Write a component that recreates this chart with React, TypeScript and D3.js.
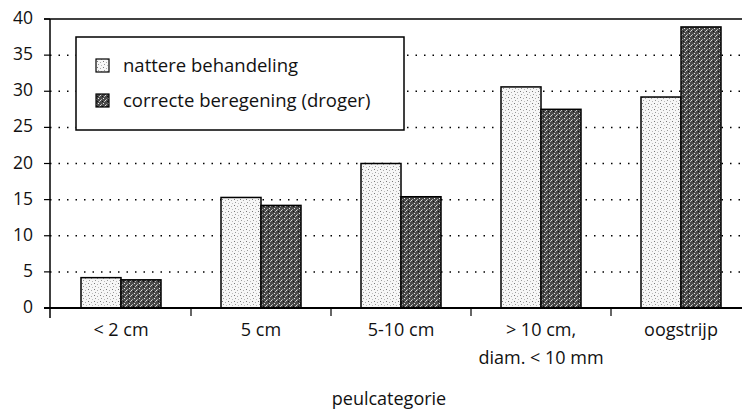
import React from "react";
import * as d3 from "d3";

// peulcategorie (pod category) vs percentage
const categories = ["< 2 cm", "5 cm", "5-10 cm", "> 10 cm,|diam. < 10 mm", "oogstrijp"];
const natter = [4.2, 15.3, 20.0, 30.6, 29.2];
const correct = [3.9, 14.2, 15.4, 27.5, 38.9];
const seriesNames = ["nattere behandeling", "correcte beregening (droger)"];
const yTicks = [0, 5, 10, 15, 20, 25, 30, 35, 40];

const W = 742;
const H = 412;
const FONT = "'Open Sans', sans-serif";

const App = () => {
    const y = d3.scaleLinear().domain([0, 40]).range([308, 19]);
    const x0 = d3.scaleBand().domain(categories).range([51, 751]).paddingInner(0);
    const bw = x0.bandwidth();
    const x1 = d3.scaleBand().domain(seriesNames).range([bw / 2 - 40, bw / 2 + 40]);
    const values = [natter, correct];
    const fills = ["url(#lightDots)", "url(#darkDots)"];

    const tickEdges = categories.map((c) => x0(c) as number);

    return (
        <svg width={W} height={H} style={{ position: "absolute", left: 0, top: 0, background: "#fff" }}
             fontFamily={FONT}>
            <defs>
                <pattern id="lightDots" width="6" height="6" patternUnits="userSpaceOnUse">
                    <rect width="6" height="6" fill="#f6f6f6" />
                    <rect x="1" y="1" width="1" height="1" fill="#777" />
                    <rect x="4" y="2" width="1" height="1" fill="#aaa" />
                    <rect x="2" y="4" width="1" height="1" fill="#999" />
                    <rect x="5" y="5" width="1" height="1" fill="#bbb" />
                </pattern>
                <pattern id="darkDots" width="5" height="5" patternUnits="userSpaceOnUse">
                    <rect width="5" height="5" fill="#4a4a4a" />
                    <rect x="0" y="0" width="1" height="1" fill="#ddd" />
                    <rect x="2" y="1" width="1" height="1" fill="#111" />
                    <rect x="3" y="3" width="1" height="1" fill="#eee" />
                    <rect x="1" y="4" width="1" height="1" fill="#aaa" />
                    <rect x="4" y="1" width="1" height="1" fill="#bbb" />
                </pattern>
            </defs>

            {/* dotted gridlines */}
            {yTicks.filter((t) => t > 0 && t < 40).map((t) => (
                <line key={"g" + t} x1={50} x2={W} y1={y(t)} y2={y(t)}
                      stroke="#000" strokeWidth={1.5} strokeDasharray="1.5 7" />
            ))}
            {/* top border line at 40 */}
            <line x1={44} x2={W} y1={y(40)} y2={y(40)} stroke="#000" strokeWidth={1.5} />

            {/* legend */}
            <rect x={76} y={37} width={328} height={93} fill="#fff" stroke="#000" strokeWidth={1.5} />
            {seriesNames.map((s, i) => (
                <g key={s}>
                    <rect x={96} y={59 + i * 35} width={13} height={13} fill={fills[i]} stroke="#000" strokeWidth={1.2} />
                    <text x={123} y={72 + i * 34.5} fontSize={18.5} fill="#111">{s}</text>
                </g>
            ))}

            {/* bars */}
            {categories.map((c, ci) => (
                <g key={c} transform={`translate(${x0(c)},0)`}>
                    {seriesNames.map((s, si) => (
                        <rect key={s} x={x1(s)} y={y(values[si][ci])} width={x1.bandwidth()}
                              height={y(0) - y(values[si][ci])} fill={fills[si]} stroke="#000" strokeWidth={1.5} />
                    ))}
                </g>
            ))}

            {/* y axis */}
            <line x1={50} x2={50} y1={y(40)} y2={318} stroke="#000" strokeWidth={1.5} />
            {yTicks.map((t) => (
                <g key={"t" + t}>
                    <line x1={44} x2={50} y1={y(t)} y2={y(t)} stroke="#000" strokeWidth={1.2} />
                    <text x={33} y={y(t) + 5} textAnchor="end" fontSize={17.5} fill="#111">{t}</text>
                </g>
            ))}

            {/* x axis */}
            <line x1={44} x2={W} y1={y(0)} y2={y(0)} stroke="#000" strokeWidth={1.8} />
            {tickEdges.slice(1).map((tx, i) => (
                <line key={"x" + i} x1={tx} x2={tx} y1={y(0)} y2={y(0) + 8} stroke="#000" strokeWidth={1.2} />
            ))}
            {categories.map((c) => (
                <text key={"l" + c} x={(x0(c) as number) + bw / 2} y={336} textAnchor="middle" fontSize={18} fill="#111">
                    {c.split("|").map((line, i) => (
                        <tspan key={i} x={(x0(c) as number) + bw / 2} dy={i === 0 ? 0 : 28}>{line}</tspan>
                    ))}
                </text>
            ))}

            <text x={389} y={405} textAnchor="middle" fontSize={18} fill="#111">peulcategorie</text>
        </svg>
    );
};

export default App;
